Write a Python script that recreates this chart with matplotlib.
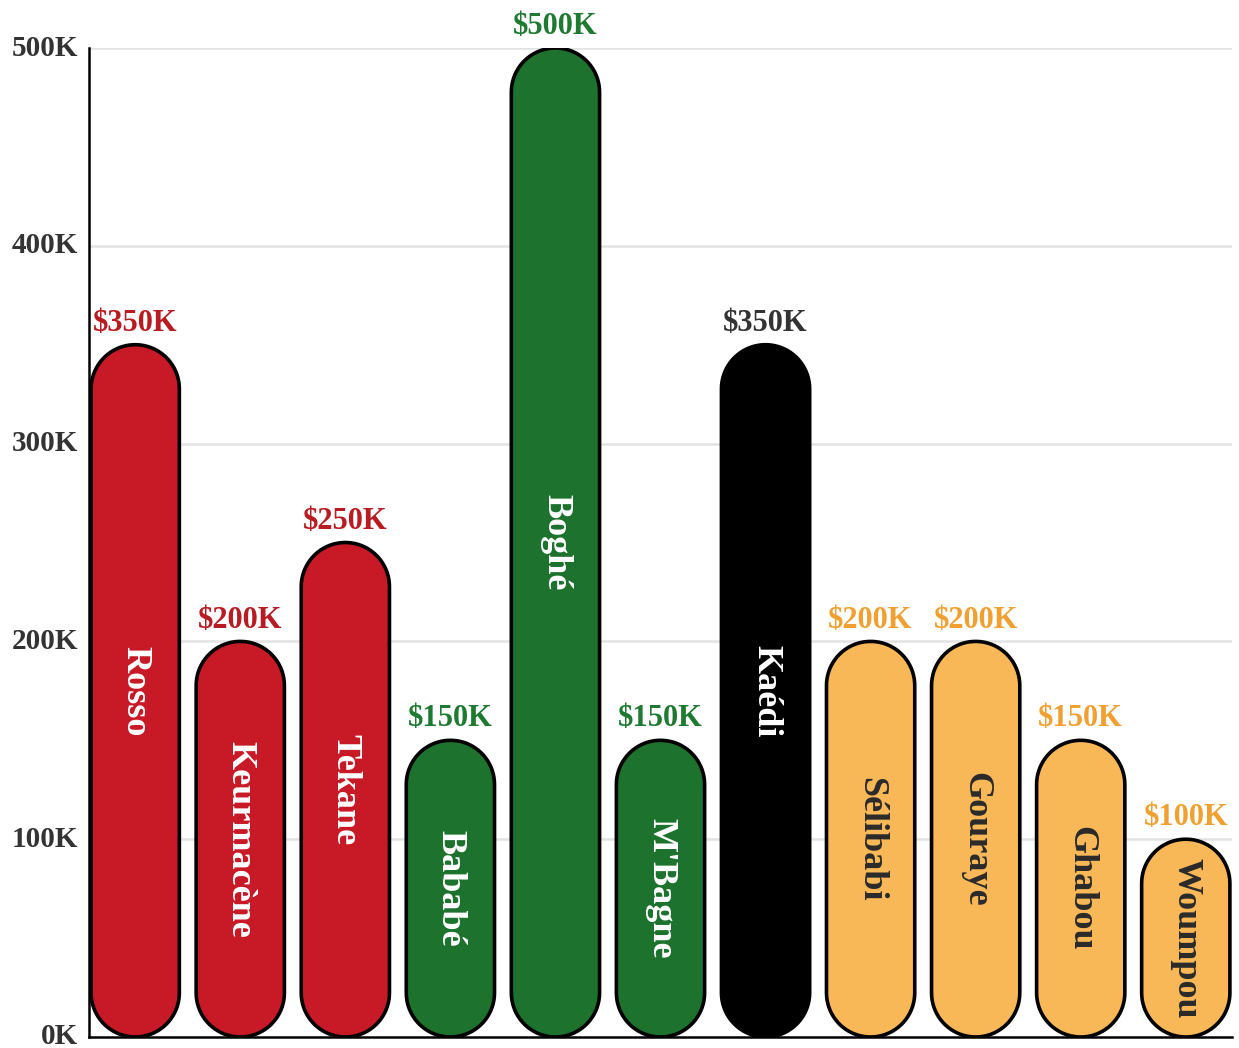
import numpy as np
import matplotlib
matplotlib.use("Agg")
import matplotlib.pyplot as plt
import matplotlib.transforms as mtrans
from matplotlib.path import Path
from matplotlib.patches import PathPatch

# towns and their values (in K)
towns = ["Rosso", "Keurmacène", "Tekane", "Bababé", "Boghé", "M'Bagne",
         "Kaédi", "Sélibabi", "Gouraye", "Ghabou", "Woumpou"]
values = [350, 200, 250, 150, 500, 150, 350, 200, 200, 150, 100]
groups = ["red", "red", "red", "green", "green", "green",
          "black", "orange", "orange", "orange", "orange"]
yticks = [0, 100, 200, 300, 400, 500]

fill = {"red": "#C81A26", "green": "#1D722E", "black": "#000000", "orange": "#F9B857"}
label_col = {"red": "#B81C22", "green": "#1E7A30", "black": "#333333", "orange": "#F0A030"}
inner_col = {"red": "white", "green": "white", "black": "white", "orange": "#2a2a2a"}

plt.rcParams['font.family'] = ['Liberation Serif', 'DejaVu Serif']
plt.rcParams['font.weight'] = 'bold'

W, H = 1239, 1048
fig = plt.figure(figsize=(W / 100, H / 100), dpi=100)
left, right, top, bottom = 89, 1232, 48, 1037
ax = fig.add_axes([left / W, (H - bottom) / H, (right - left) / W, (bottom - top) / H])

x = np.arange(len(towns))
xlim = (-0.44, len(towns) - 1 + 0.44)
ax.set_xlim(*xlim)
ax.set_ylim(0, 500)

bar_w = 0.84
px_x = (right - left) / (xlim[1] - xlim[0])
px_y = (bottom - top) / 500.0
rx = bar_w / 2
ry = rx * px_x / px_y

t_top = np.linspace(0, np.pi, 40)
t_bot = np.linspace(np.pi, 2 * np.pi, 40)

for xi, v, g, name in zip(x, values, groups, towns):
    # pill shaped bar: top arc right->left, then bottom arc left->right
    arc_top = np.column_stack([xi + rx * np.cos(t_top), v - ry + ry * np.sin(t_top)])
    arc_bot = np.column_stack([xi + rx * np.cos(t_bot), ry + ry * np.sin(t_bot)])
    verts = np.vstack([arc_top, arc_bot, arc_top[:1]])
    codes = [Path.MOVETO] + [Path.LINETO] * (len(verts) - 2) + [Path.CLOSEPOLY]
    ax.add_patch(PathPatch(Path(verts, codes), facecolor=fill[g], edgecolor="black",
                           linewidth=2.6, zorder=3))
    ax.annotate(f"${v}K", (xi, v), xytext=(0, 10), textcoords="offset points",
                ha="center", va="baseline", fontsize=22, color=label_col[g],
                fontweight="bold", zorder=4)
    ax.text(xi, v / 2, name, rotation=-90, ha="center", va="center",
            fontsize=26, color=inner_col[g], fontweight="bold", zorder=4)

for yv in yticks[1:]:
    ax.axhline(yv, color="#e3e3e3", linewidth=1.8, zorder=1)

ax.set_yticks(yticks)
ax.set_yticklabels([f"{t}K" for t in yticks], fontsize=21, fontweight="bold", color="#333333")
ax.tick_params(axis="y", length=0, pad=8)
shift = mtrans.ScaledTranslation(0, 3 / 100, fig.dpi_scale_trans)
for lab in ax.get_yticklabels():
    lab.set_transform(lab.get_transform() + shift)
ax.set_xticks([])
for s in ["top", "right"]:
    ax.spines[s].set_visible(False)
ax.spines["left"].set_linewidth(1.8)
ax.spines["bottom"].set_linewidth(1.8)
ax.spines["left"].set_zorder(5)
ax.spines["bottom"].set_zorder(5)

fig.savefig("out.png", dpi=100)
